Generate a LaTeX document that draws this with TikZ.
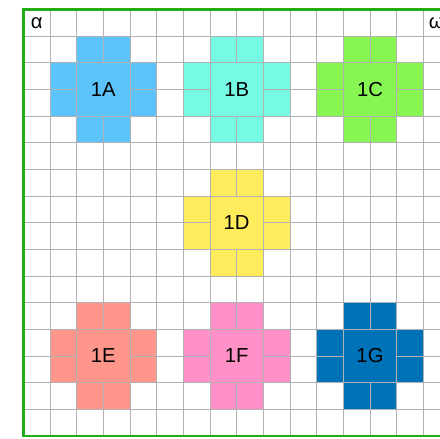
\documentclass[tikz,border=0pt]{standalone}
\usepackage{fontspec}
\setmainfont{Liberation Sans}
\usepackage{xcolor}
\usepackage{tikz}
\usetikzlibrary{positioning}
\definecolor{FrameGreen}{RGB}{36,172,22}
\definecolor{GridGrey}{RGB}{178,178,178}
\definecolor{cellA}{RGB}{92,196,250}
\definecolor{cellB}{RGB}{118,250,228}
\definecolor{cellC}{RGB}{136,246,82}
\definecolor{cellD}{RGB}{255,236,92}
\definecolor{cellE}{RGB}{255,150,140}
\definecolor{cellF}{RGB}{255,144,200}
\definecolor{cellG}{RGB}{0,114,184}
\tikzset{
  gridline/.style={GridGrey, line width=0.45pt},
  frame/.style={FrameGreen, line width=1.3pt},
  blockcell/.style={draw=GridGrey, line width=0.45pt, inner sep=0pt, outer sep=0pt,
    font=\fontsize{10.8}{12}\selectfont},
  centre/.style={blockcell, minimum size=1cm},
  arm/.style={blockcell, minimum size=0.5cm},
  cornerlab/.style={font=\fontsize{10.8}{12}\selectfont, inner sep=0pt},
}

\begin{document}
\begin{tikzpicture}[x=0.5cm, y=-0.5cm]
  \clip (-0.875,-0.35) rectangle (15.625,16.11);
  \fill[white] (-0.875,-0.35) rectangle (15.625,16.11);
  \foreach \i in {0,...,16} {
    \draw[gridline] (\i,0) -- (\i,16);
    \draw[gridline] (0,\i) -- (16,\i);
  }
  \foreach \cx/\cy/\lab/\col in {3/3/1A/cellA, 8/3/1B/cellB, 13/3/1C/cellC, 8/8/1D/cellD,
      3/13/1E/cellE, 8/13/1F/cellF, 13/13/1G/cellG} {
    \foreach \dx/\dy [count=\k] in {-0.5/-1.5, 0.5/-1.5, -1.5/-0.5, 1.5/-0.5,
        -1.5/0.5, 1.5/0.5, -0.5/1.5, 0.5/1.5}
      \node[arm, fill=\col] (\lab-\k) at ({\cx+\dx},{\cy+\dy}) {};
    \node[centre, fill=\col] (\lab) at (\cx,\cy) {\lab};
  }
  \node[cornerlab] (alpha) at (0.5,0.5) {α};
  \node[cornerlab] (omega) at (15.5,0.5) {ω};
  \draw[frame] (0,0) rectangle (16,16);
\end{tikzpicture}
\end{document}
